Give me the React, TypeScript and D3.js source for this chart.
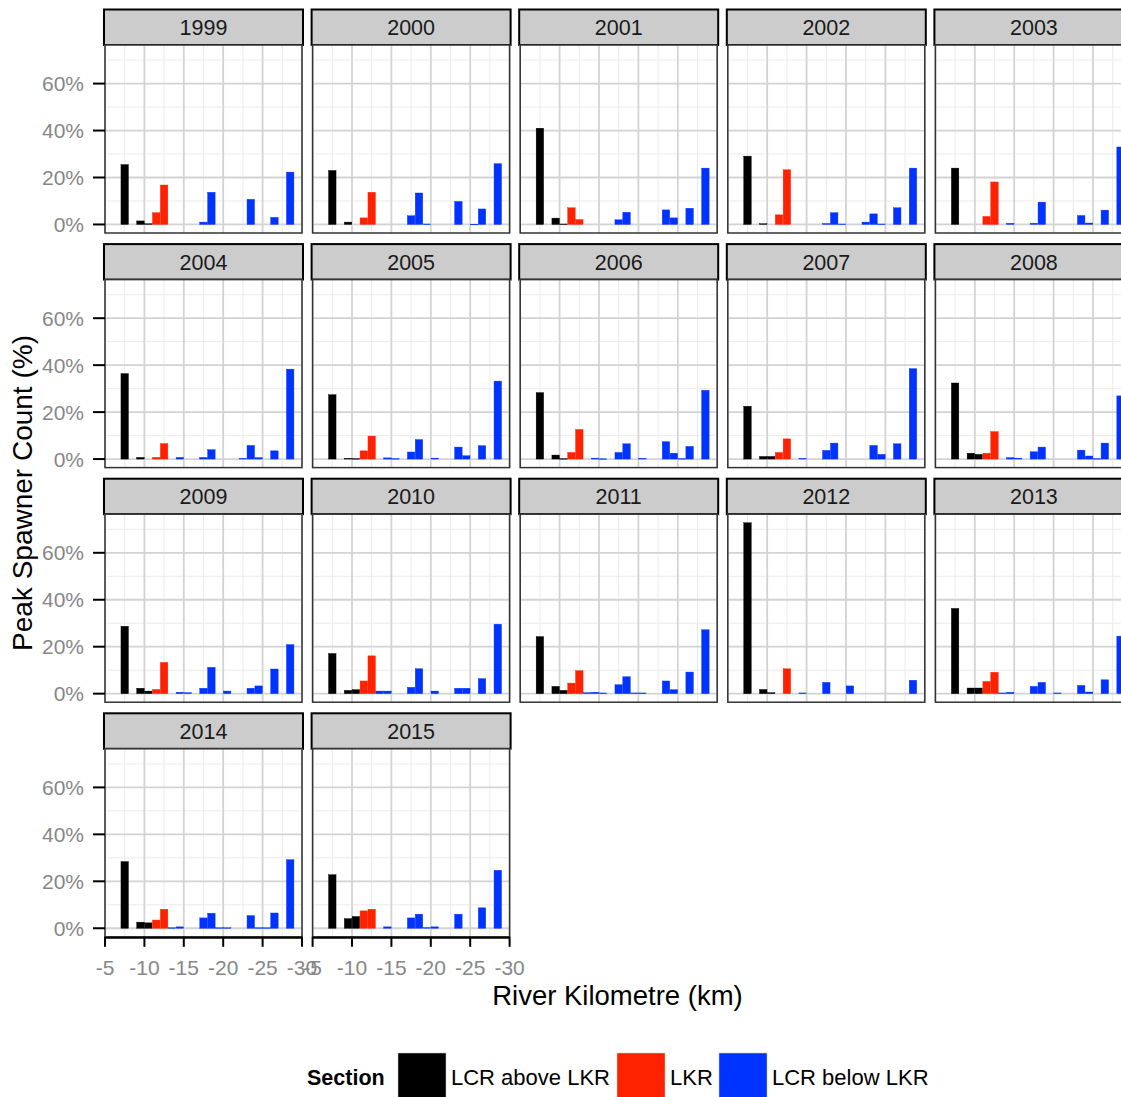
import React from "react";
import * as d3 from "d3";

// River-km bin centres (one bar per bin) and the section each bin belongs to
const sites = [-7.5, -9.5, -10.5, -11.5, -12.5, -13.5, -14.5, -15.5, -17.5, -18.5, -19.5, -20.5, -22.5, -23.5, -24.5, -25.5, -26.5, -28.5];
const siteSection = ["A", "A", "A", "L", "L", "B", "B", "B", "B", "B", "B", "B", "B", "B", "B", "B", "B", "B"];

const years = ["1999", "2000", "2001", "2002", "2003", "2004", "2005", "2006", "2007", "2008", "2009", "2010", "2011", "2012", "2013", "2014", "2015"];

// Peak spawner count (%) per bin, one row per year, aligned with `sites`
const y1999 = [25.5, 1.5, 0.3, 5, 16.8, 0, 0, 0, 1, 13.7, 0, 0, 0, 10.7, 0, 0, 3, 22.3];
const y2000 = [23, 1, 0, 2.8, 13.7, 0, 0, 0, 3.7, 13.4, 0.2, 0, 0, 9.8, 0, 0.1, 6.6, 25.9];
const y2001 = [41, 2.7, 0.2, 7.1, 2.1, 0, 0, 0, 2, 5.2, 0, 0, 0, 6.2, 2.8, 0, 6.9, 24];
const y2002 = [29.1, 0.3, 0, 4.1, 23.3, 0, 0, 0, 0.4, 5, 0.2, 0, 1, 4.5, 0.2, 0, 7.1, 24];
const y2003 = [24, 0, 0, 3.4, 18.1, 0, 0.5, 0, 0.5, 9.5, 0, 0, 0, 3.8, 0.6, 0, 6.1, 33];
const y2004 = [36.4, 0.7, 0, 0.7, 6.6, 0, 0.7, 0, 0.7, 4, 0, 0, 0.3, 5.8, 0.6, 0, 3.5, 38.3];
const y2005 = [27.4, 0.3, 0.2, 3.5, 9.8, 0, 0.5, 0.2, 3, 8.3, 0, 0.4, 0, 5.1, 1.4, 0, 5.7, 33.2];
const y2006 = [28.3, 1.7, 0.2, 2.8, 12.6, 0, 0.4, 0.1, 2.8, 6.5, 0, 0.3, 0, 7.4, 2.5, 0.2, 5.4, 29.3];
const y2007 = [22.5, 1.1, 1.1, 2.8, 8.6, 0, 0.3, 0, 3.7, 6.8, 0, 0, 0, 5.8, 2, 0, 6.5, 38.5];
const y2008 = [32.4, 2.5, 2, 2.5, 11.7, 0, 0.6, 0.4, 3.1, 5.1, 0, 0, 0, 3.8, 1.3, 0.2, 6.8, 26.9];
const y2009 = [28.7, 2.3, 1.1, 1.8, 13.3, 0, 0.6, 0.4, 2.3, 11.2, 0, 1.1, 0, 2.3, 3.3, 0, 10.5, 20.9];
const y2010 = [17.1, 1.4, 1.7, 5.4, 16.1, 1.1, 1.1, 0, 2.7, 10.6, 0, 1.1, 0, 2.3, 2.3, 0, 6.4, 29.6];
const y2011 = [24.3, 3.1, 1.4, 4.5, 9.8, 0.4, 0.6, 0.3, 3.8, 7.2, 0.3, 0.3, 0, 5.4, 1.7, 0, 9.2, 27.2];
const y2012 = [72.8, 1.8, 0.4, 0, 10.6, 0, 0.3, 0, 4.8, 0, 0, 3.3, 0, 0, 0, 0, 0, 5.7];
const y2013 = [36.3, 2.4, 2.4, 5.2, 9.1, 0.3, 0.6, 0, 3.1, 4.8, 0, 0.3, 0, 3.5, 0.7, 0, 5.9, 24.5];
const y2014 = [28.4, 2.6, 2.3, 3.5, 8.1, 0.2, 0.6, 0, 4.4, 6.4, 0.2, 0.2, 0, 5.4, 0.2, 0.2, 6.5, 29.2];
const y2015 = [22.8, 4.1, 5, 7.4, 8.1, 0, 0.6, 0, 4.4, 6, 0.3, 0.6, 0, 6, 0, 0, 8.7, 24.7];

const yearValues = [y1999, y2000, y2001, y2002, y2003, y2004, y2005, y2006, y2007, y2008, y2009, y2010, y2011, y2012, y2013, y2014, y2015];

const sectionKeys = ["A", "L", "B"];
const sectionLabels = ["LCR above LKR", "LKR", "LCR below LKR"];
const sectionColors = ["#000000", "#ff2200", "#0033ff"];

const xTicks = [-5, -10, -15, -20, -25, -30];
const xMinor = [-7.5, -12.5, -17.5, -22.5, -27.5];
const yTicks = [0, 20, 40, 60];
const yMinor = [10, 30, 50, 70];

const FONT = "'Liberation Sans', Arial, Helvetica, sans-serif";

const W = 1121;
const H = 1097;
const nCols = 5;
const col0 = 105;
const colStep = 207.6;
const panelW = 197;
const row0 = 9.5;
const rowStep = 234.6;
const stripH = 35.5;
const plotH = 188;

const maxVal = d3.max(yearValues.flat()) as number;
const pad = maxVal * 0.05;

const x = d3.scaleLinear().domain([-5, -30]).range([0, panelW]);
const y = d3.scaleLinear().domain([-pad, maxVal + pad]).range([plotH, 0]);
const color = d3.scaleOrdinal<string, string>().domain(sectionKeys).range(sectionColors);
const barW = Math.abs(x(-5.95) - x(-5));

function Panel({ year, values, col, row, showY, showX }: any) {
  const left = col0 + col * colStep;
  const stripTop = row0 + row * rowStep;
  const top = stripTop + stripH;
  return (
    <g>
      {/* strip */}
      <rect x={left - 1} y={stripTop} width={panelW + 2} height={stripH} fill="#cccccc" stroke="#000" strokeWidth={2} />
      <text x={left + panelW / 2} y={stripTop + stripH / 2} dy="0.36em" textAnchor="middle" fontSize={21.5} fontFamily={FONT} fill="#1a1a1a">
        {year}
      </text>
      <g transform={`translate(${left},${top})`}>
        <rect x={0} y={0} width={panelW} height={plotH} fill="#fff" />
        {yMinor.map((t) => (
          <line key={"ym" + t} x1={0} x2={panelW} y1={y(t)} y2={y(t)} stroke="#ebebeb" strokeWidth={1} />
        ))}
        {xMinor.map((t) => (
          <line key={"xm" + t} x1={x(t)} x2={x(t)} y1={0} y2={plotH} stroke="#ebebeb" strokeWidth={1} />
        ))}
        {yTicks.map((t) => (
          <line key={"yM" + t} x1={0} x2={panelW} y1={y(t)} y2={y(t)} stroke="#d3d3d3" strokeWidth={1.8} />
        ))}
        {xTicks.map((t) => (
          <line key={"xM" + t} x1={x(t)} x2={x(t)} y1={0} y2={plotH} stroke="#d3d3d3" strokeWidth={1.8} />
        ))}
        {values.map((v: number, i: number) =>
          v > 0 ? (
            <rect
              key={i}
              x={x(sites[i]) - barW / 2}
              y={y(v)}
              width={barW}
              height={Math.max(y(0) - y(v), 0.6)}
              fill={color(siteSection[i])}
              stroke={color(siteSection[i])}
              strokeWidth={0.4}
            />
          ) : null
        )}
        <rect x={0} y={0} width={panelW} height={plotH} fill="none" stroke="#333" strokeWidth={1.5} />
        {showY &&
          yTicks.map((t) => (
            <g key={"yt" + t}>
              <line x1={-12} x2={0} y1={y(t)} y2={y(t)} stroke="#000" strokeWidth={2} />
              <text x={-21} y={y(t)} dy="0.36em" textAnchor="end" fontSize={21} fontFamily={FONT} fill="#878787">
                {t}%
              </text>
            </g>
          ))}
        {showX && (
          <g>
            <line x1={0} x2={panelW} y1={plotH + 1} y2={plotH + 1} stroke="#000" strokeWidth={2} />
            {xTicks.map((t) => (
              <g key={"xt" + t}>
                <line x1={x(t)} x2={x(t)} y1={plotH} y2={plotH + 10} stroke="#000" strokeWidth={2} />
                <text x={x(t)} y={plotH + 31} dy="0.36em" textAnchor="middle" fontSize={21} fontFamily={FONT} fill="#878787">
                  {t}
                </text>
              </g>
            ))}
          </g>
        )}
      </g>
    </g>
  );
}

export default function App() {
  const lastRow = Math.floor((years.length - 1) / nCols);
  const legendItems = [
    { key: 398, label: 451 },
    { key: 617, label: 670 },
    { key: 719, label: 772 },
  ];
  return (
    <svg
      width={W}
      height={H}
      style={{ position: "absolute", left: 0, top: 0, overflow: "hidden", background: "#fff" }}
    >
      <rect width={W} height={H} fill="#fff" />
      {years.map((yr, i) => {
        const col = i % nCols;
        const row = Math.floor(i / nCols);
        return (
          <Panel key={yr} year={yr} values={yearValues[i]} col={col} row={row} showY={col === 0} showX={row === lastRow} />
        );
      })}
      <text x={617.5} y={995} dy="0.36em" textAnchor="middle" fontSize={27.5} fontFamily={FONT} fill="#000">
        River Kilometre (km)
      </text>
      <text
        transform={`translate(22,493) rotate(-90)`}
        dy="0.36em"
        textAnchor="middle"
        fontSize={28}
        fontFamily={FONT}
        fill="#000"
      >
        Peak Spawner Count (%)
      </text>
      <text x={307} y={1077} dy="0.36em" fontSize={21.5} fontWeight="bold" fontFamily={FONT} fill="#000">
        Section
      </text>
      {sectionKeys.map((k, i) => (
        <g key={k}>
          <rect x={legendItems[i].key} y={1053} width={48} height={48} fill={sectionColors[i]} stroke="#cfcfcf" strokeWidth={0.5} />
          <text x={legendItems[i].label} y={1077} dy="0.36em" fontSize={22} fontFamily={FONT} fill="#000">
            {sectionLabels[i]}
          </text>
        </g>
      ))}
    </svg>
  );
}
